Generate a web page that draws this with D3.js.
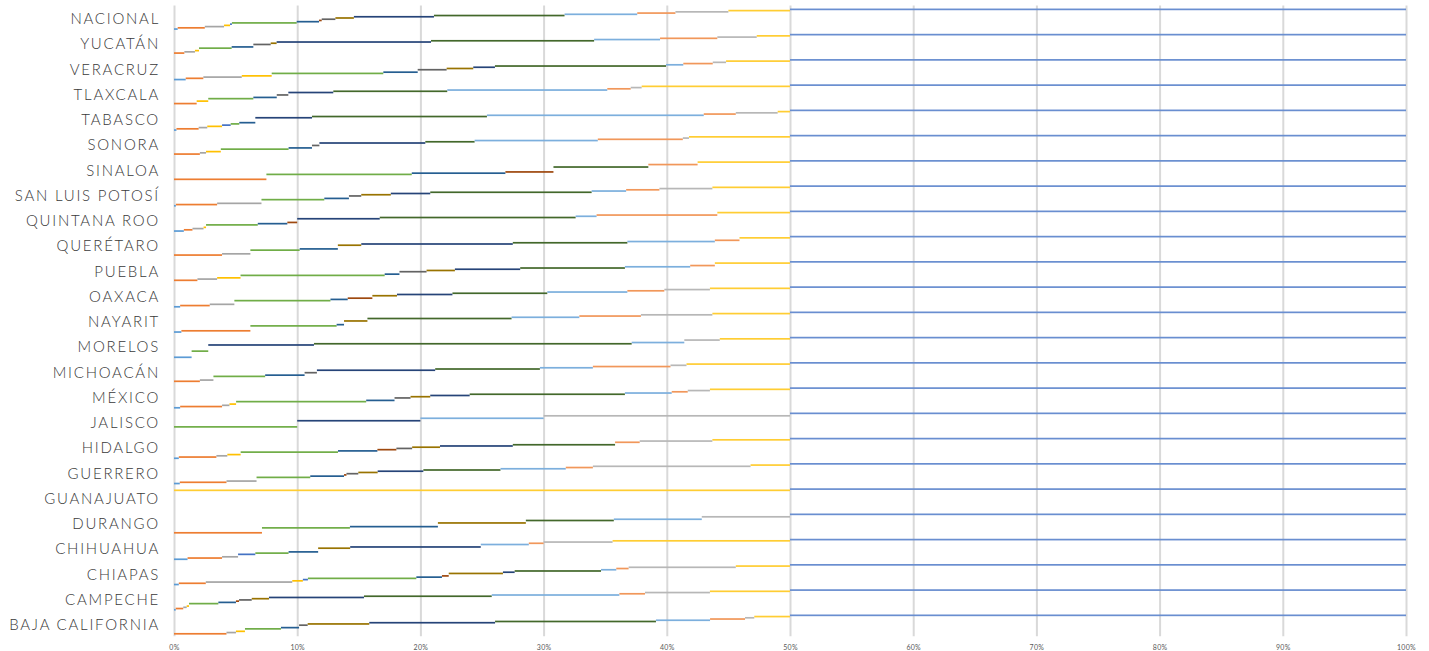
<!DOCTYPE html>
<html>
<head>
<meta charset="utf-8">
<script src="https://cdn.jsdelivr.net/npm/d3@7"></script>
<style>
  body { margin: 0; background: #fff; }
  svg text { font-family: Lato, "Open Sans", sans-serif; }
</style>
</head>
<body>
<svg id="chart" width="1429" height="651"></svg>
<script>
// categories, top to bottom
const states = ["NACIONAL", "YUCATÁN", "VERACRUZ", "TLAXCALA", "TABASCO", "SONORA", "SINALOA",
  "SAN LUIS POTOSÍ", "QUINTANA ROO", "QUERÉTARO", "PUEBLA", "OAXACA", "NAYARIT", "MORELOS",
  "MICHOACÁN", "MÉXICO", "JALISCO", "HIDALGO", "GUERRERO", "GUANAJUATO", "DURANGO",
  "CHIHUAHUA", "CHIAPAS", "CAMPECHE", "BAJA CALIFORNIA"];

// one colour per series (17 series, the last one is the 50% remainder)
const seriesColors = ["#5B9BD5", "#ED7D31", "#A5A5A5", "#FFC000", "#4472C4", "#70AD47",
  "#255E91", "#9E480E", "#636363", "#997300", "#264478", "#43682B",
  "#7CAFDD", "#F1975A", "#B7B7B7", "#FFCD33", "#698ED0"];

// share (%) of each series per state, same order as states
const shares = [
  [0.3, 2.2, 1.56, 0.49, 0.15, 5.26, 1.81, 0.22, 1.11, 1.5, 6.5, 10.6, 5.9, 3.1, 4.3, 5.0, 50],
  [0, 0.84, 0.86, 0.33, 0, 2.65, 1.76, 0, 1.41, 0.48, 12.53, 13.24, 5.35, 4.65, 3.2, 2.7, 50],
  [0.95, 1.43, 3.12, 2.43, 0, 9.06, 2.79, 0, 2.35, 2.16, 1.76, 13.89, 1.4, 2.39, 1.08, 5.19, 50],
  [0, 1.84, 0, 0.94, 0, 3.66, 1.9, 0, 0.94, 0, 3.65, 9.25, 12.99, 1.9, 0.89, 12.04, 50],
  [0.2, 1.8, 0.7, 1.2, 0.7, 0.7, 1.3, 0, 0, 0, 4.6, 14.2, 17.6, 2.6, 3.4, 1.0, 50],
  [0, 2.1, 0.5, 1.2, 0, 5.5, 1.9, 0, 0.6, 0, 8.6, 4.0, 10.0, 6.9, 0.5, 8.2, 50],
  [0, 7.5, 0, 0, 0, 11.8, 7.6, 3.9, 0, 0, 0, 7.7, 0, 4.0, 0, 7.5, 50],
  [0.15, 3.35, 3.6, 0, 0, 5.1, 2.0, 0, 1.0, 2.4, 3.2, 13.1, 2.8, 2.7, 4.3, 6.3, 50],
  [0.8, 0.7, 0.9, 0.2, 0, 4.2, 2.4, 0.8, 0, 0, 6.7, 15.9, 1.7, 9.8, 0, 5.9, 50],
  [0, 3.9, 2.3, 0, 0, 4.0, 3.1, 0, 0, 1.9, 12.3, 9.3, 7.1, 2.0, 0, 4.1, 50],
  [0, 1.9, 1.6, 1.9, 0, 11.7, 1.2, 0, 2.2, 2.3, 5.3, 8.5, 5.3, 2.0, 0, 6.1, 50],
  [0.5, 2.4, 2.0, 0, 0, 7.8, 1.4, 2.0, 0, 2.0, 4.5, 7.7, 6.5, 3.0, 3.7, 6.5, 50],
  [0.6, 5.6, 0, 0, 0, 7.0, 0.6, 0, 0, 1.9, 0, 11.7, 5.5, 5.0, 5.8, 6.3, 50],
  [1.43, 0, 0, 0, 0, 1.35, 0, 0, 0, 0, 8.58, 25.79, 4.27, 0, 2.88, 5.7, 50],
  [0, 2.1, 1.1, 0, 0, 4.2, 3.2, 0, 1.0, 0, 9.6, 8.5, 4.3, 6.3, 1.3, 8.4, 50],
  [0.5, 3.4, 0.6, 0.54, 0, 10.56, 2.3, 0, 1.3, 1.6, 3.2, 12.6, 3.8, 1.3, 1.8, 6.5, 50],
  [0, 0, 0, 0, 0, 10, 0, 0, 0, 0, 10, 0, 10, 0, 20, 0, 50],
  [0.39, 3.05, 0.89, 1.08, 0, 7.9, 3.2, 1.54, 1.28, 2.26, 5.91, 8.3, 0, 2.0, 5.9, 6.3, 50],
  [0.47, 3.79, 2.44, 0, 0, 4.36, 2.74, 0.2, 0.96, 1.57, 3.71, 6.26, 5.3, 2.2, 12.8, 3.2, 50],
  [0, 0, 0, 0, 0, 0, 0, 0, 0, 0, 0, 0, 0, 0, 0, 50, 50],
  [0, 7.14, 0, 0, 0, 7.14, 7.14, 0, 0, 7.14, 0, 7.14, 7.14, 0, 7.16, 0, 50],
  [1.1, 2.8, 1.3, 0, 1.4, 2.7, 2.4, 0, 0, 2.6, 10.6, 0, 3.9, 1.2, 5.6, 14.4, 50],
  [0.39, 2.19, 7.02, 0.86, 0.41, 8.8, 2.08, 0.55, 0, 4.4, 0.95, 7.01, 1.24, 1.0, 8.7, 4.4, 50],
  [0.14, 0.61, 0.28, 0.19, 0, 2.38, 1.43, 0.25, 1.03, 1.4, 7.71, 10.37, 10.36, 2.08, 5.27, 6.5, 50],
  [0, 4.26, 0.77, 0.73, 0, 2.92, 1.47, 0, 0.7, 5.0, 10.21, 13.06, 4.39, 2.84, 0.75, 2.9, 50]
];

const xTicks = [0, 10, 20, 30, 40, 50, 60, 70, 80, 90, 100];

const svg = d3.select("#chart");
const plot = { left: 174, right: 1406, top: 6.6, bottom: 637.8 };

const x = d3.scaleLinear().domain([0, 100]).range([plot.left, plot.right]);

const y = d3.scaleBand()
  .domain(states)
  .range([plot.top, plot.bottom])
  .paddingInner(0.172)
  .paddingOuter(0.086);

// series sit side by side inside each row, first series at the bottom
const ySeries = d3.scaleBand()
  .domain(d3.range(seriesColors.length))
  .range([y.bandwidth(), 0]);

// grid + x labels
const gAxis = svg.append("g")
  .attr("transform", `translate(0,${plot.bottom - 1.5})`)
  .call(d3.axisBottom(x).tickValues(xTicks).tickSize(-(plot.bottom - plot.top - 0.5)).tickFormat(d => d + "%"));

gAxis.select(".domain").remove();
gAxis.selectAll(".tick line")
  .attr("stroke", "#d9d9d9")
  .attr("stroke-width", 2);
gAxis.selectAll(".tick text")
  .attr("y", 9)
  .attr("fill", "#595959")
  .attr("font-size", 7)
  .attr("letter-spacing", 0.3);

// bars
const rows = svg.append("g").attr("id", "bars")
  .selectAll("g")
  .data(states)
  .join("g")
  .attr("transform", d => `translate(0,${y(d)})`);

rows.selectAll("rect")
  .data((d, i) => {
    const ends = d3.cumsum(shares[i]);
    return shares[i].map((v, k) => ({ k, start: ends[k] - v, end: ends[k], v }))
      .filter(s => s.v > 0);
  })
  .join("rect")
  .attr("x", s => x(s.start))
  .attr("width", s => x(s.end) - x(s.start))
  .attr("y", s => ySeries(s.k) + ySeries.bandwidth() / 2 - 0.85)
  .attr("height", 1.7)
  .attr("fill", s => seriesColors[s.k]);

// state labels
svg.append("g").attr("id", "labels")
  .selectAll("text")
  .data(states)
  .join("text")
  .attr("x", 160)
  .attr("y", d => y(d) + y.bandwidth() / 2 - 1)
  .attr("text-anchor", "end")
  .attr("dominant-baseline", "central")
  .attr("font-size", 15)
  .attr("font-weight", 300)
  .attr("letter-spacing", 1.75)
  .attr("fill", "#3a3a3a")
  .text(d => d);
</script>
</body>
</html>
